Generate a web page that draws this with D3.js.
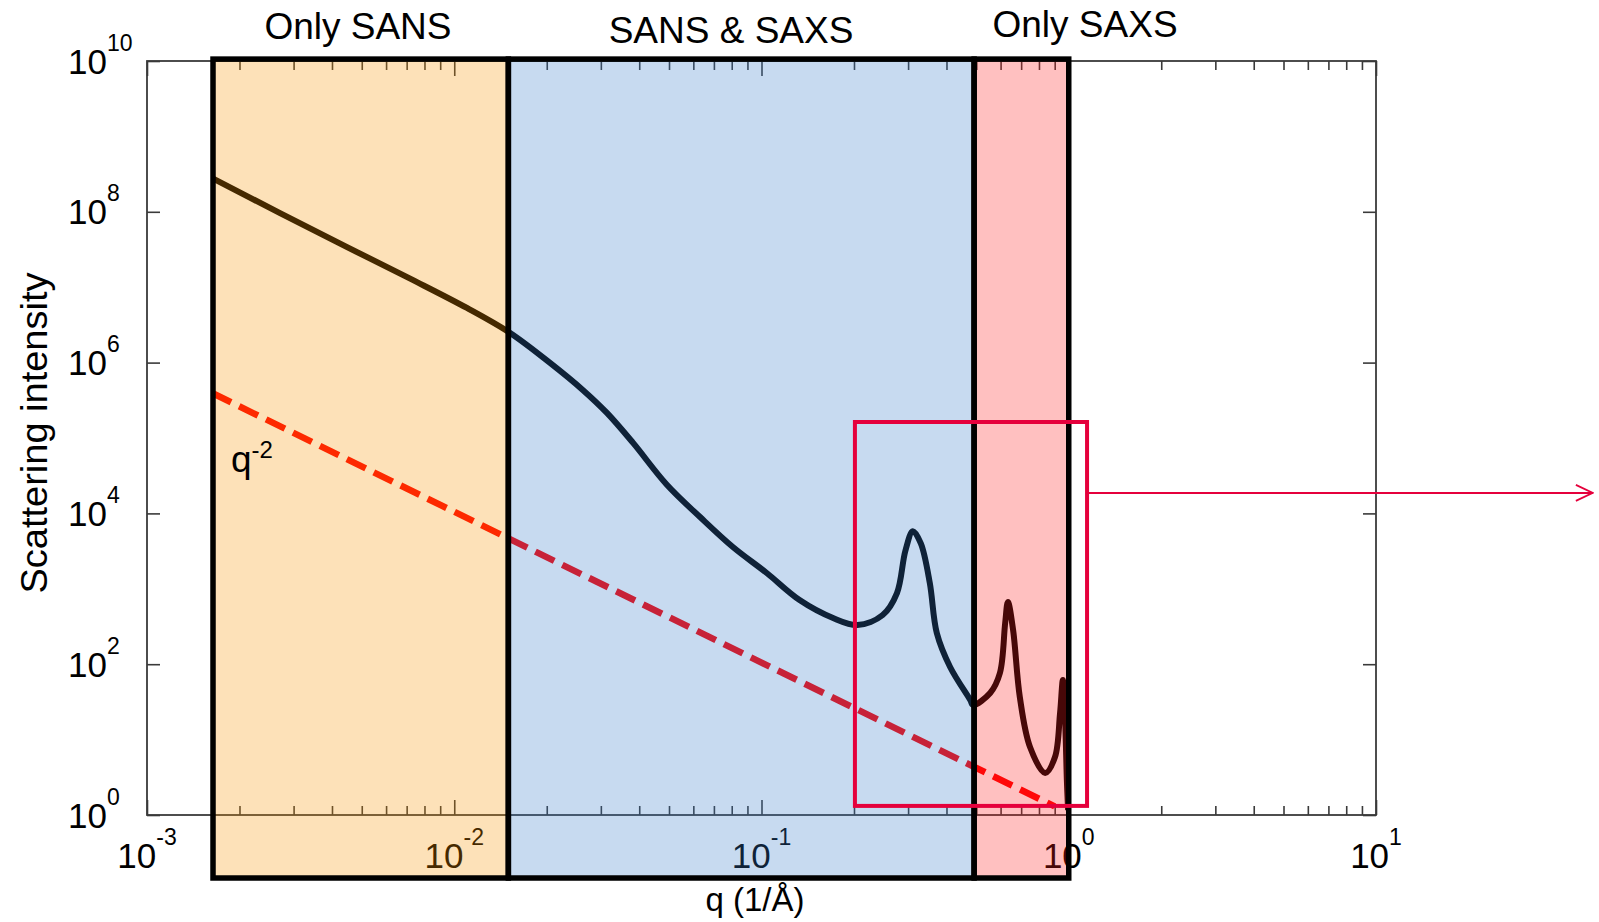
<!DOCTYPE html>
<html>
<head>
<meta charset="utf-8">
<script src="https://cdn.jsdelivr.net/npm/d3@7"></script>
<style>
  body { margin: 0; background: #fff; }
  text { font-family: "Liberation Sans", Arial, sans-serif; fill: #000; }
</style>
</head>
<body>
<div id="chart"></div>
<script>
// Measured scattering curve (q in 1/A, intensity)
var curveQ = [0.00163, 0.00271, 0.00448, 0.00735, 0.0110, 0.0152, 0.0205, 0.0262, 0.0314,
  0.0382, 0.0492, 0.0631, 0.0807, 0.104, 0.133, 0.171, 0.205, 0.248, 0.276,
  0.294, 0.311, 0.330, 0.353, 0.372, 0.411, 0.478, 0.488, 0.555, 0.597,
  0.621, 0.634, 0.659, 0.693, 0.748, 0.838, 0.902, 0.937, 0.957, 0.973,
  0.986, 0.995];
var curveI = [2.8e8, 9.6e7, 3.4e7, 1.24e7, 5.3e6, 2.47e6, 9.9e5, 4.34e5, 2.15e5,
  8.6e4, 2.4e4, 8950, 3580, 1620, 710, 410, 331, 450, 879,
  3200, 5800, 4000, 1194, 259, 91.8, 33.5, 28.8, 41.5, 76.4,
  352, 668, 284, 36.7, 7.98, 3.61, 5.87, 22.5, 61.7, 18.2,
  2.91, 1.16];

// q^-2 guide line end points
var guideQ = [0.00163, 0.90];
var guideI = [3.95e5, 1.30];

// Instrument ranges
var regionNames = ["Only SANS", "SANS & SAXS", "Only SAXS"];
var regionStart = [0.00164, 0.0150, 0.492];
var regionEnd = [0.0150, 0.492, 1.0];
var regionColors = ["#f89400", "#377bc9", "#ff1e1e"];
var titleQ = [0.00486, 0.0796, 1.13];

// Zoom box and arrow
var zoomQ = [0.2014, 1.147];
var zoomI = [1.32, 1.63e5];
var arrowQ = [1.147, 50.8];
var arrowI = 1.87e4;

// Tick exponents
var xTickExps = [-3, -2, -1, 0, 1];
var yTickExps = [0, 2, 4, 6, 8, 10];

var W = 1599, H = 922;
var margin = {top: 61, right: 223, bottom: 107, left: 147};
var width = W - margin.left - margin.right;
var height = H - margin.top - margin.bottom;

var svg = d3.select("#chart").append("svg")
  .attr("width", W)
  .attr("height", H);

var g = svg.append("g")
  .attr("transform", "translate(" + margin.left + "," + margin.top + ")");

var xScale = d3.scaleLog().domain([1e-3, 10]).range([0, width]);
var yScale = d3.scaleLog().domain([1, 1e10]).range([height, 0]);

// all ticks 1..9 x each decade
var xMajor = xTickExps.map(function(e) { return Math.pow(10, e); });
var xMinor = [];
xTickExps.slice(0, -1).forEach(function(e) {
  for (var k = 2; k <= 9; k++) xMinor.push(k * Math.pow(10, e));
});
var yMajor = yTickExps.map(function(e) { return Math.pow(10, e); });

var axisColor = "#3a3a3a";

function styleAxis(sel) {
  sel.select(".domain").remove();
  sel.selectAll("line").attr("stroke", axisColor).attr("stroke-width", 1.6);
}

// Bottom / top axes (inward ticks)
g.append("g").attr("transform", "translate(0," + height + ")")
  .call(d3.axisBottom(xScale).tickValues(xMinor).tickSize(-9).tickFormat(""))
  .call(styleAxis);
g.append("g").attr("transform", "translate(0," + height + ")")
  .call(d3.axisBottom(xScale).tickValues(xMajor).tickSize(-15).tickFormat(""))
  .call(styleAxis);
g.append("g")
  .call(d3.axisTop(xScale).tickValues(xMinor).tickSize(-9).tickFormat(""))
  .call(styleAxis);
g.append("g")
  .call(d3.axisTop(xScale).tickValues(xMajor).tickSize(-15).tickFormat(""))
  .call(styleAxis);

// Left / right axes
g.append("g")
  .call(d3.axisLeft(yScale).tickValues(yMajor).tickSize(-13).tickFormat(""))
  .call(styleAxis);
g.append("g").attr("transform", "translate(" + width + ",0)")
  .call(d3.axisRight(yScale).tickValues(yMajor).tickSize(-13).tickFormat(""))
  .call(styleAxis);

// Frame
g.append("rect")
  .attr("x", 0).attr("y", 0)
  .attr("width", width).attr("height", height)
  .attr("fill", "none")
  .attr("stroke", axisColor)
  .attr("stroke-width", 1.8);

// X tick labels 10^n
g.selectAll(".xlab").data(xTickExps).enter().append("text")
  .attr("class", "xlab")
  .attr("x", function(e) { return xScale(Math.pow(10, e)); })
  .attr("y", height + 53)
  .attr("text-anchor", "middle")
  .each(function(e) {
    var t = d3.select(this);
    t.append("tspan").attr("font-size", "35px").text("10");
    t.append("tspan").attr("font-size", "23px").attr("dy", -23).text(e);
  });

// Y tick labels 10^n
g.selectAll(".ylab").data(yTickExps).enter().append("text")
  .attr("class", "ylab")
  .attr("x", -79)
  .attr("y", function(e) { return yScale(Math.pow(10, e)) + 12.5; })
  .attr("text-anchor", "start")
  .each(function(e) {
    var t = d3.select(this);
    t.append("tspan").attr("font-size", "35px").text("10");
    t.append("tspan").attr("font-size", "23px").attr("dy", -23).text(e);
  });

// Axis titles
g.append("text")
  .attr("x", 608)
  .attr("y", height + 96)
  .attr("text-anchor", "middle")
  .attr("font-size", "33px")
  .text("q (1/Å)");

g.append("text")
  .attr("transform", "translate(-100," + 372 + ") rotate(-90)")
  .attr("text-anchor", "middle")
  .attr("font-size", "37px")
  .attr("textLength", 321)
  .attr("lengthAdjust", "spacingAndGlyphs")
  .text("Scattering intensity");

// Guide line q^-2
var guideData = guideQ.map(function(q, i) { return [q, guideI[i]]; });
var curveData = curveQ.map(function(q, i) { return [q, curveI[i]]; });

var line = d3.line()
  .x(function(d) { return xScale(d[0]); })
  .y(function(d) { return yScale(d[1]); });

g.append("path")
  .datum(guideData)
  .attr("d", line)
  .attr("fill", "none")
  .attr("stroke", "#ff0000")
  .attr("stroke-width", 6.5)
  .attr("stroke-dasharray", "21,9");

// Scattering curve
g.append("path")
  .datum(curveData)
  .attr("d", line.curve(d3.curveCatmullRom.alpha(0.5)))
  .attr("fill", "none")
  .attr("stroke", "#000")
  .attr("stroke-width", 6)
  .attr("stroke-linejoin", "round");

// Region overlays (translucent, over the plot)
var boxTop = 1.06e10, boxBottom = 0.146;
g.selectAll(".region").data(regionNames).enter().append("rect")
  .attr("class", "region")
  .attr("x", function(d, i) { return xScale(regionStart[i]); })
  .attr("y", yScale(boxTop))
  .attr("width", function(d, i) { return xScale(regionEnd[i]) - xScale(regionStart[i]); })
  .attr("height", yScale(boxBottom) - yScale(boxTop))
  .attr("fill", function(d, i) { return regionColors[i]; })
  .attr("fill-opacity", 0.28);

g.selectAll(".regionBorder").data(regionNames).enter().append("rect")
  .attr("class", "regionBorder")
  .attr("x", function(d, i) { return xScale(regionStart[i]); })
  .attr("y", yScale(boxTop))
  .attr("width", function(d, i) { return xScale(regionEnd[i]) - xScale(regionStart[i]); })
  .attr("height", yScale(boxBottom) - yScale(boxTop))
  .attr("fill", "none")
  .attr("stroke", "#000")
  .attr("stroke-width", 5.5);

// q^-2 label (on top of the overlay)
g.append("text")
  .attr("x", 84)
  .attr("y", 411)
  .each(function() {
    var t = d3.select(this);
    t.append("tspan").attr("font-size", "37px").text("q");
    t.append("tspan").attr("font-size", "24px").attr("dy", -14).text("-2");
  });

// Region titles
var titleY = [39, 43, 37];
svg.selectAll(".rtitle").data(regionNames).enter().append("text")
  .attr("class", "rtitle")
  .attr("x", function(d, i) { return margin.left + xScale(titleQ[i]); })
  .attr("y", function(d, i) { return titleY[i]; })
  .attr("text-anchor", "middle")
  .attr("font-size", "37px")
  .text(function(d) { return d; });

// Zoom box + arrow
var red = "#e5003c";
g.append("rect")
  .attr("x", xScale(zoomQ[0]))
  .attr("y", yScale(zoomI[1]))
  .attr("width", xScale(zoomQ[1]) - xScale(zoomQ[0]))
  .attr("height", yScale(zoomI[0]) - yScale(zoomI[1]))
  .attr("fill", "none")
  .attr("stroke", red)
  .attr("stroke-width", 4);

svg.append("defs").append("marker")
  .attr("id", "head")
  .attr("viewBox", "0 0 20 20")
  .attr("refX", 19).attr("refY", 10)
  .attr("markerWidth", 20).attr("markerHeight", 20)
  .attr("markerUnits", "userSpaceOnUse")
  .attr("orient", "auto")
  .append("path")
    .attr("d", "M2,2 L19,10 L2,18")
    .attr("fill", "none")
    .attr("stroke", red)
    .attr("stroke-width", 1.8);

g.append("line")
  .attr("x1", xScale(arrowQ[0]))
  .attr("x2", xScale(arrowQ[1]))
  .attr("y1", yScale(arrowI))
  .attr("y2", yScale(arrowI))
  .attr("stroke", red)
  .attr("stroke-width", 2)
  .attr("marker-end", "url(#head)");
</script>
</body>
</html>
